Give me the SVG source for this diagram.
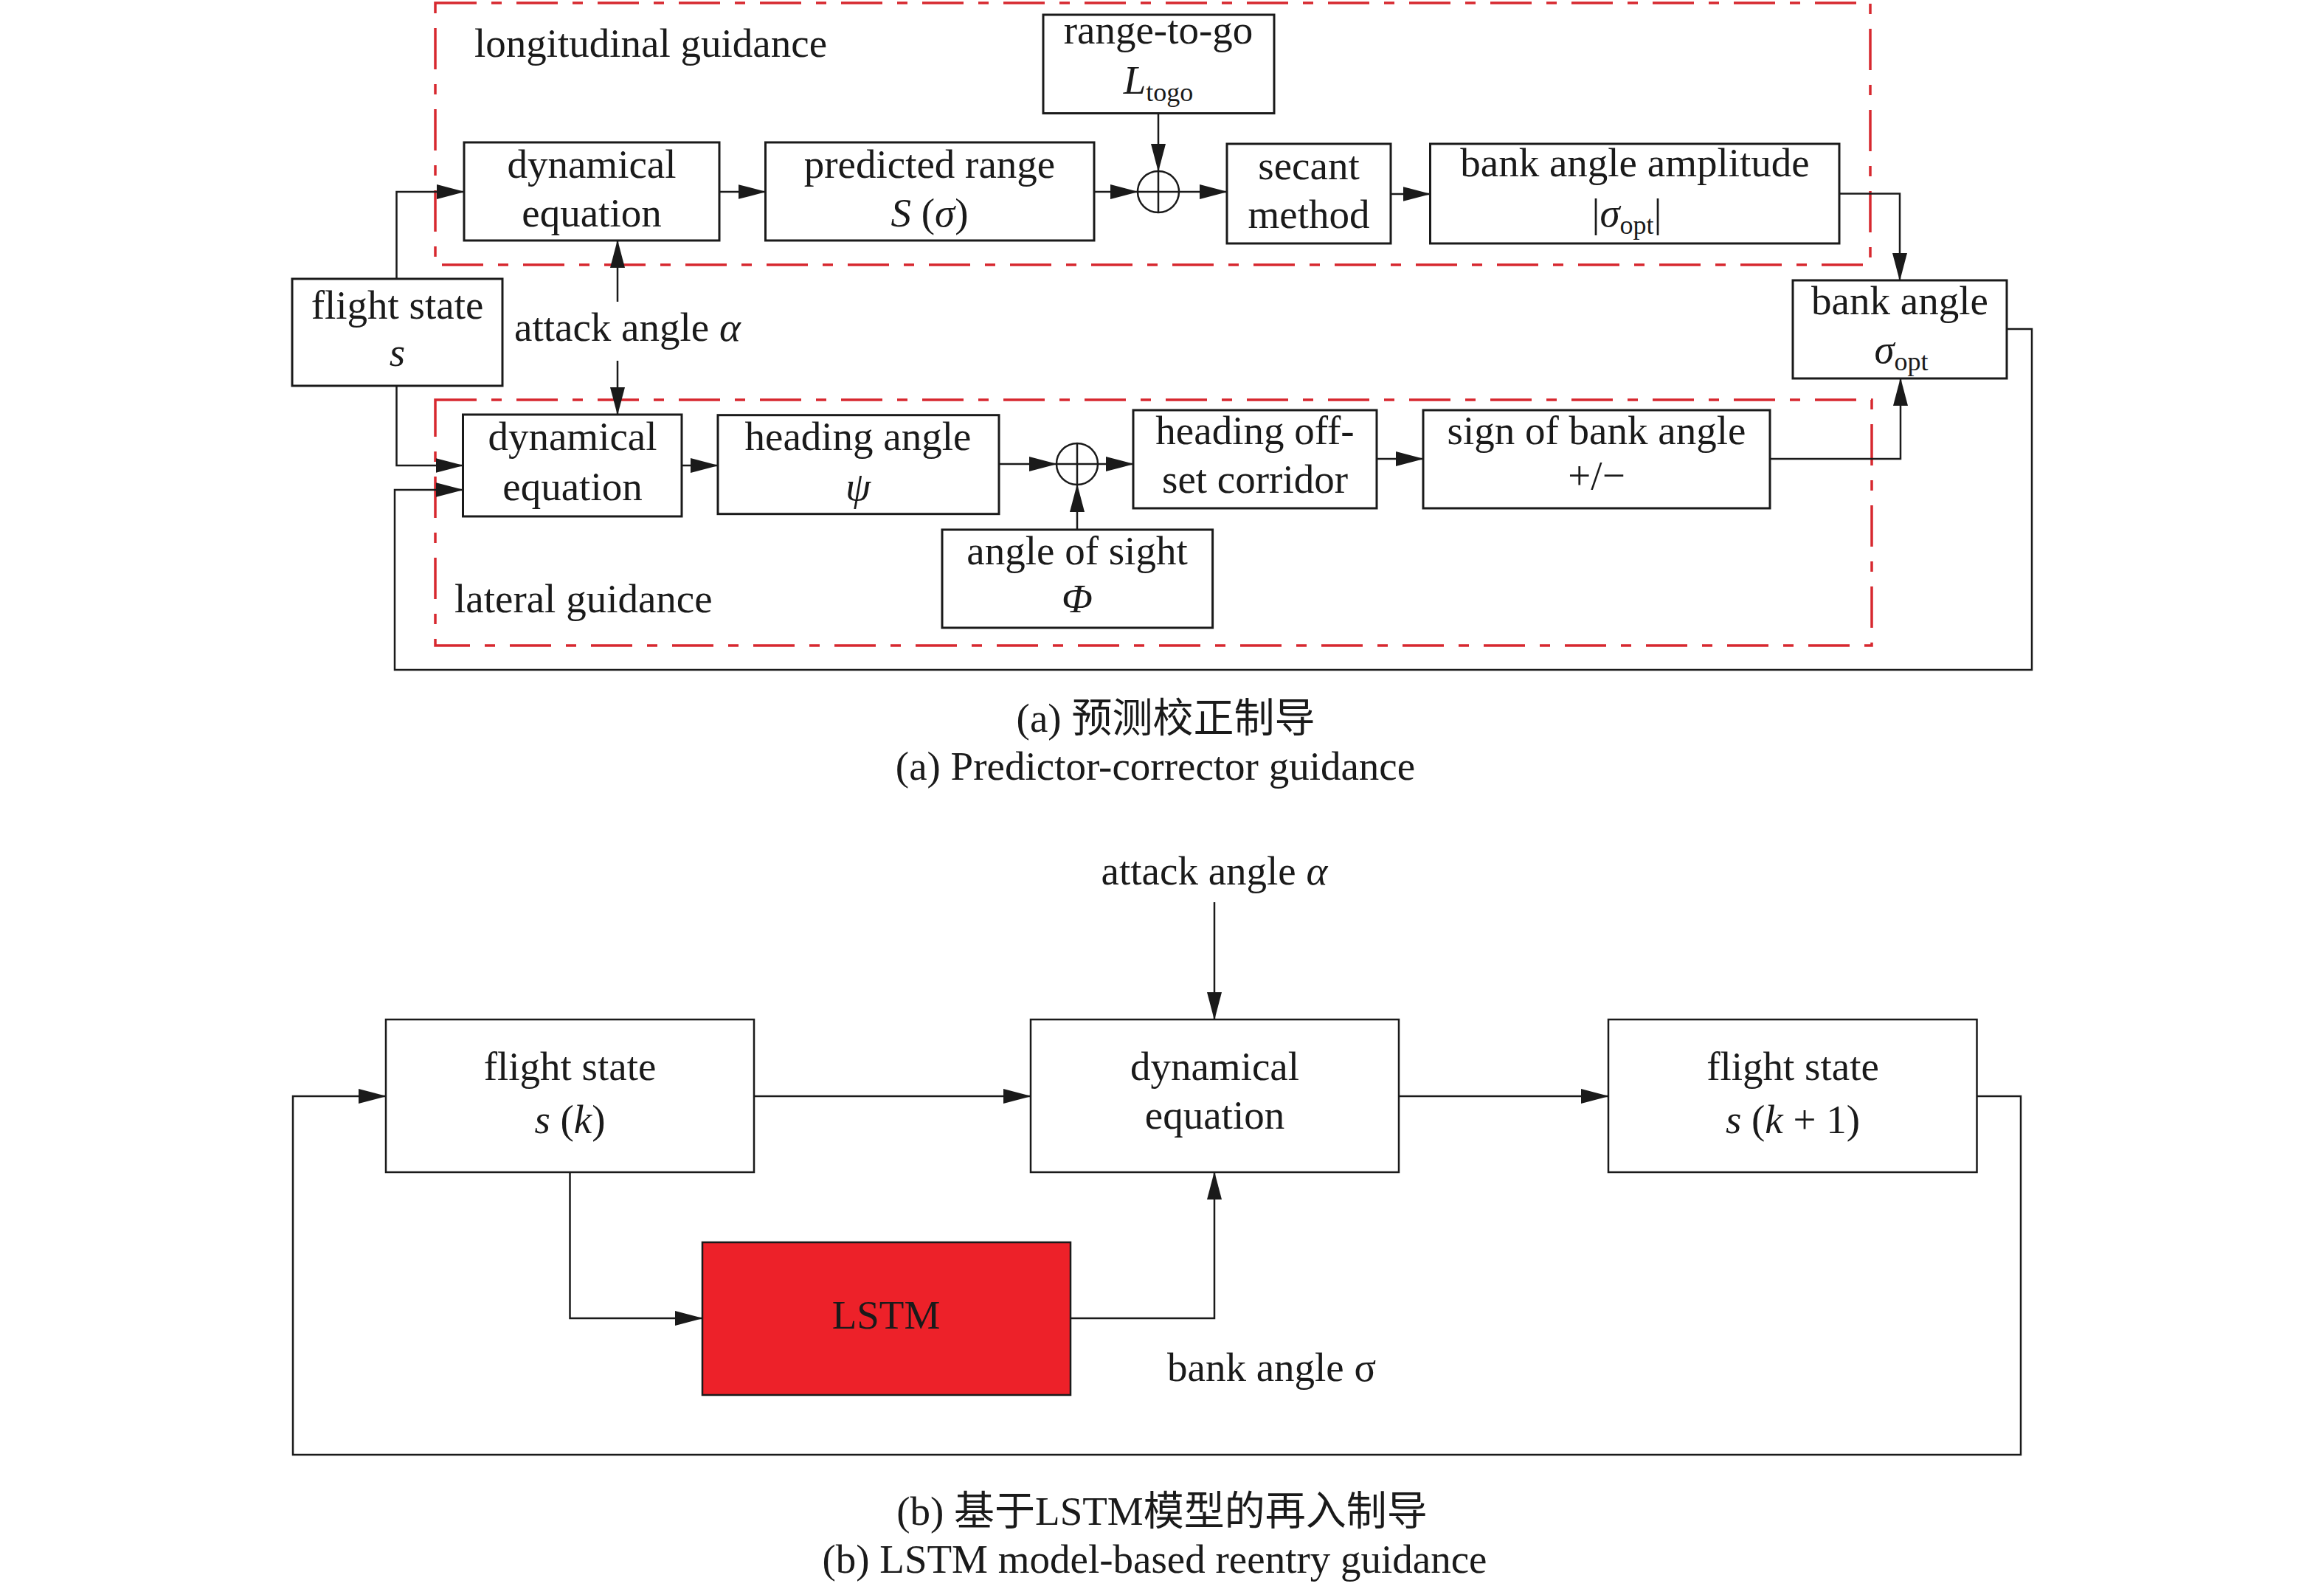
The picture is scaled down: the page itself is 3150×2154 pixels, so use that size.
<svg xmlns="http://www.w3.org/2000/svg" width="3150" height="2154" viewBox="0 0 3150 2154">
<style>
text{font-family:"Liberation Serif","Times New Roman",serif;font-size:55px;fill:#1a1a1a}
.c{text-anchor:middle}
.i{font-style:italic}
.sub{font-size:36px}
.cj{font-family:"Liberation Serif","Noto Sans CJK SC",serif}
.box{fill:#fff;stroke:#1a1a1a;stroke-width:3}
.boxb{fill:#fff;stroke:#1a1a1a;stroke-width:2.5}
.lstm{fill:#ed2129;stroke:#1a1a1a;stroke-width:2.5}
.ln{fill:none;stroke:#1a1a1a;stroke-width:2.5}
.ar{fill:none;stroke:#1a1a1a;stroke-width:2.5;marker-end:url(#ah)}
.dash{fill:none;stroke:#d7282f;stroke-width:3.5;stroke-dasharray:56 20 14 20}
</style>
<defs>
<marker id="ah" markerUnits="userSpaceOnUse" markerWidth="38" markerHeight="20" refX="37" refY="10" orient="auto">
<path d="M0,0 L38,10 L0,20 Z" fill="#1a1a1a"/>
</marker>
</defs>
<rect width="3150" height="2154" fill="#fff"/>

<!-- (a) guidance regions -->
<g id="longitudinal-region">
<rect class="dash" x="590" y="4" width="1945" height="355"/>
<text x="643" y="77">longitudinal guidance</text>
</g>
<g id="lateral-region">
<rect class="dash" x="590" y="542" width="1947" height="333"/>
<text x="616" y="830">lateral guidance</text>
</g>

<g id="connectors-a">
<polyline class="ar" points="537.5,378 537.5,260 629,260"/>
<polyline class="ar" points="537.5,523 537.5,631 627.5,631"/>
<line class="ar" x1="837" y1="409" x2="837" y2="326"/>
<line class="ar" x1="837" y1="489" x2="837" y2="562"/>
<line class="ar" x1="975" y1="260" x2="1037.5" y2="260"/>
<line class="ar" x1="1483" y1="260" x2="1542" y2="260"/>
<line class="ar" x1="1570" y1="153.6" x2="1570" y2="232"/>
<line class="ar" x1="1598" y1="260" x2="1663" y2="260"/>
<line class="ar" x1="1885" y1="263" x2="1938.5" y2="263"/>
<polyline class="ar" points="2493,262.5 2575,262.5 2575,380"/>
<line class="ar" x1="924" y1="631" x2="973" y2="631"/>
<line class="ar" x1="1354" y1="629" x2="1432" y2="629"/>
<line class="ar" x1="1488" y1="629" x2="1536" y2="629"/>
<line class="ar" x1="1460" y1="718" x2="1460" y2="657"/>
<line class="ar" x1="1866" y1="622" x2="1929" y2="622"/>
<polyline class="ar" points="2399,622 2576,622 2576,513"/>
<polyline class="ar" points="2720,446 2754,446 2754,908 535,908 535,664 627.5,664"/>
</g>

<g id="sum-upper">
<circle cx="1570" cy="260" r="28" fill="#fff" stroke="#1a1a1a" stroke-width="2.5"/>
<path class="ln" d="M1542,260 H1598 M1570,232 V288"/>
</g>
<g id="sum-lower">
<circle cx="1460" cy="629" r="28" fill="#fff" stroke="#1a1a1a" stroke-width="2.5"/>
<path class="ln" d="M1432,629 H1488 M1460,601 V657"/>
</g>

<g id="flight-state-a">
<rect class="box" x="396" y="378" width="285" height="145"/>
<text class="c" x="538.5" y="432">flight state</text>
<text class="c i" x="538.5" y="496">s</text>
</g>
<text x="697" y="462">attack angle <tspan class="i">α</tspan></text>

<g id="dyn-eq-upper">
<rect class="box" x="629" y="193" width="346" height="133"/>
<text class="c" x="802" y="241">dynamical</text>
<text class="c" x="802" y="307">equation</text>
</g>
<g id="predicted-range">
<rect class="box" x="1037.5" y="193" width="445.5" height="133"/>
<text class="c" x="1260" y="241">predicted range</text>
<text class="c" x="1260" y="307"><tspan class="i">S</tspan> (<tspan class="i">σ</tspan>)</text>
</g>
<g id="range-to-go">
<rect class="box" x="1414" y="20" width="313" height="133.6"/>
<text class="c" x="1570" y="59">range-to-go</text>
<text class="c" x="1570" y="127"><tspan class="i">L</tspan><tspan class="sub" dy="10">togo</tspan></text>
</g>
<g id="secant-method">
<rect class="box" x="1663" y="195" width="222" height="135"/>
<text class="c" x="1774" y="243">secant</text>
<text class="c" x="1774" y="309">method</text>
</g>
<g id="bank-angle-amplitude">
<rect class="box" x="1938.5" y="195" width="554.5" height="135"/>
<text class="c" x="2216" y="239">bank angle amplitude</text>
<text class="c" x="2205" y="307">|<tspan class="i">σ</tspan><tspan class="sub" dy="10">opt</tspan><tspan dy="-10">|</tspan></text>
</g>
<g id="bank-angle-a">
<rect class="box" x="2430" y="380" width="290" height="133"/>
<text class="c" x="2575" y="426">bank angle</text>
<text class="c" x="2577" y="492"><tspan class="i">σ</tspan><tspan class="sub" dy="10">opt</tspan></text>
</g>

<g id="dyn-eq-lower">
<rect class="box" x="627.5" y="562" width="296.5" height="138"/>
<text class="c" x="776" y="610">dynamical</text>
<text class="c" x="776" y="678">equation</text>
</g>
<g id="heading-angle">
<rect class="box" x="973" y="562.7" width="381" height="134"/>
<text class="c" x="1163" y="610">heading angle</text>
<text class="c i" x="1163" y="678">ψ</text>
</g>
<g id="angle-of-sight">
<rect class="box" x="1277" y="718" width="366.6" height="133"/>
<text class="c" x="1460" y="765">angle of sight</text>
<text class="c i" x="1460" y="830">Φ</text>
</g>
<g id="heading-offset">
<rect class="box" x="1536" y="556" width="330" height="133"/>
<text class="c" x="1701" y="602">heading off-</text>
<text class="c" x="1701" y="668">set corridor</text>
</g>
<g id="sign-bank-angle">
<rect class="box" x="1929" y="556" width="470" height="133"/>
<text class="c" x="2164" y="602">sign of bank angle</text>
<text class="c" x="2164" y="663">+/−</text>
</g>

<text class="c cj" x="1580" y="992">(a) 预测校正制导</text>
<text class="c" x="1566" y="1057">(a) Predictor-corrector guidance</text>

<!-- (b) -->
<g id="connectors-b">
<line class="ar" x1="1646" y1="1223" x2="1646" y2="1382"/>
<line class="ar" x1="1022" y1="1486" x2="1397" y2="1486"/>
<line class="ar" x1="1896" y1="1486" x2="2180" y2="1486"/>
<polyline class="ar" points="772.5,1589 772.5,1787 952,1787"/>
<polyline class="ar" points="1451,1787 1646,1787 1646,1589"/>
<polyline class="ar" points="2679.5,1486 2739,1486 2739,1972 397,1972 397,1486 523,1486"/>
</g>
<text class="c" x="1646" y="1199">attack angle <tspan class="i">α</tspan></text>
<g id="flight-state-k">
<rect class="boxb" x="523" y="1382" width="499" height="207"/>
<text class="c" x="772.5" y="1464">flight state</text>
<text class="c" x="772.5" y="1536"><tspan class="i">s</tspan> (<tspan class="i">k</tspan>)</text>
</g>
<g id="dyn-eq-b">
<rect class="boxb" x="1397" y="1382" width="499" height="207"/>
<text class="c" x="1646.5" y="1464">dynamical</text>
<text class="c" x="1646.5" y="1530">equation</text>
</g>
<g id="flight-state-k1">
<rect class="boxb" x="2180" y="1382" width="499.5" height="207"/>
<text class="c" x="2430" y="1464">flight state</text>
<text class="c" x="2430" y="1536"><tspan class="i">s</tspan> (<tspan class="i">k</tspan> + 1)</text>
</g>
<g id="lstm">
<rect class="lstm" x="952" y="1684" width="499" height="207"/>
<text class="c" x="1201" y="1801">LSTM</text>
</g>
<text x="1582" y="1872">bank angle σ</text>

<text class="c cj" x="1575" y="2067">(b) 基于LSTM模型的再入制导</text>
<text class="c" x="1565" y="2132">(b) LSTM model-based reentry guidance</text>
</svg>
